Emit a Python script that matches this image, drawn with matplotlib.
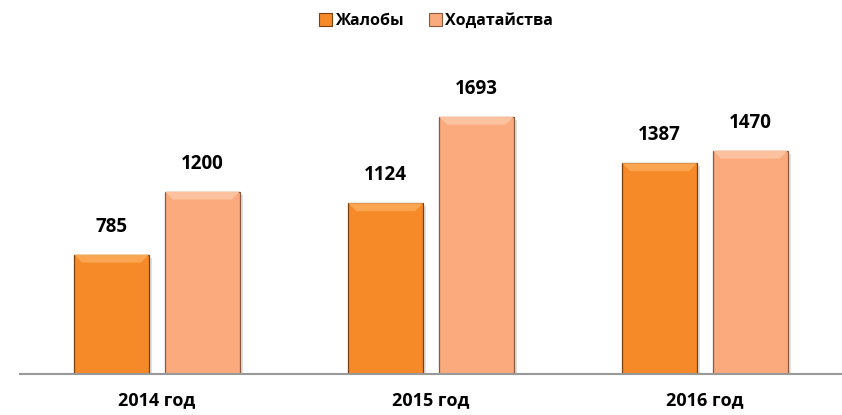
import matplotlib.pyplot as plt
from matplotlib.patches import Patch, Polygon
import numpy as np

plt.rcParams['font.family'] = ['Open Sans', 'DejaVu Sans']

# data
years = ['2014 год', '2015 год', '2016 год']
complaints = [785, 1124, 1387]      # Жалобы
petitions = [1200, 1693, 1470]      # Ходатайства
series_names = ['Жалобы', 'Ходатайства']

orange = '#F68A28'
peach = '#FAAA7C'
colors = [orange, peach]
tops = ['#F9A552', '#FCC29F']
edges = ['#7A400E', '#8A5A40']

fig = plt.figure(figsize=(8.42, 4.15), dpi=100)
ax = fig.add_axes([20 / 842, 1 - 374 / 415, 822 / 842, (374 - 70) / 415])

x = np.arange(len(years))
w = 75 / 275
gap = 16 / 275
ymax = 2000
ax.set_xlim(-0.5, len(years) - 0.5)
ax.set_ylim(0, ymax)

# bevel size in data units (about 8 px)
bx = 8 / 275
by = 8 / ((374 - 70) / ymax)

for i, vals in enumerate([complaints, petitions]):
    pos = x + (i - 0.5) * (w + gap)
    # soft shadow
    ax.bar(pos + 3 / 275, vals, w, bottom=-20, color='#000000', alpha=0.12,
           zorder=1, linewidth=0)
    bars = ax.bar(pos, vals, w, color=colors[i], edgecolor=edges[i],
                  linewidth=0.9, zorder=2)
    for b, v in zip(bars, vals):
        l = b.get_x()
        r = l + b.get_width()
        ax.add_patch(Polygon([(l, v), (r, v), (r - bx, v - by), (l + bx, v - by)],
                             closed=True, facecolor=tops[i], edgecolor='none',
                             zorder=3))
        ax.annotate(str(v), (b.get_x() + b.get_width() / 2, v),
                    xytext=(0, 20), textcoords='offset points',
                    ha='center', va='center', fontsize=13.5,
                    fontweight='bold', color='#000000')

for s in ['top', 'right', 'left']:
    ax.spines[s].set_visible(False)
ax.spines['bottom'].set_color('#999999')
ax.spines['bottom'].set_linewidth(1.5)
ax.spines['bottom'].set_zorder(4)
ax.set_yticks([])
ax.set_xticks(x)
ax.set_xticklabels(years, fontsize=13, fontweight='bold', color='#000000')
ax.tick_params(axis='x', length=0, pad=12)

handles = [Patch(facecolor=colors[i], edgecolor=edges[i], linewidth=0.8)
           for i in range(2)]
fig.legend(handles, series_names, loc='center', bbox_to_anchor=(436 / 842, 1 - 21 / 415),
           ncol=2, frameon=False, handlelength=0.8, handleheight=0.8,
           handletextpad=0.2, columnspacing=1.6,
           prop={'weight': 'bold', 'size': 11.5})

fig.savefig('out.png', dpi=100)
